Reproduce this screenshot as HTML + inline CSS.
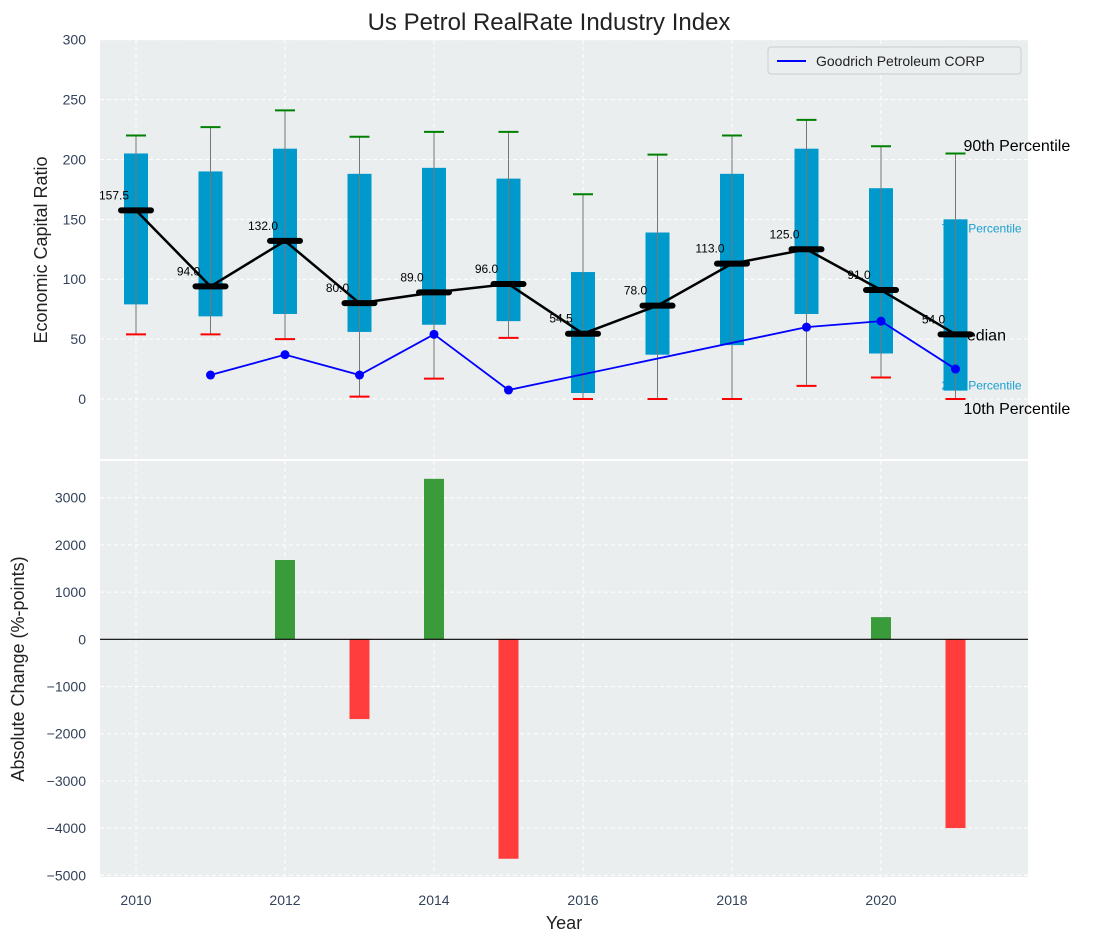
<!DOCTYPE html>
<html><head><meta charset="utf-8"><style>
body{margin:0;background:#fff;}
svg{display:block;font-family:"Liberation Sans","DejaVu Sans",sans-serif;}
</style></head><body>
<svg id="c" width="1098" height="942" xmlns="http://www.w3.org/2000/svg">
<text x="549" y="30" font-size="24" text-anchor="middle" fill="#222">Us Petrol RealRate Industry Index</text>
<rect x="100" y="40" width="928" height="419" fill="#eaeeef"/>
<rect x="100" y="461" width="928" height="416" fill="#eaeeef"/>
<g id="grid"></g>
<g id="labels"></g>
<g id="marks"></g>
<text transform="translate(47,250) rotate(-90)" font-size="18" text-anchor="middle" fill="#222">Economic Capital Ratio</text>
<text transform="translate(24,669) rotate(-90)" font-size="18" text-anchor="middle" fill="#222">Absolute Change (%-points)</text>
<text x="564" y="929" font-size="18" text-anchor="middle" fill="#222">Year</text>
<g>
<rect x="768" y="47" width="253" height="27" rx="3" fill="#eaeeef" stroke="#ccc"/>
<line x1="777" y1="61" x2="806" y2="61" stroke="#0000ff" stroke-width="2"/>
<text x="816" y="66" font-size="14" fill="#222">Goodrich Petroleum CORP</text>
</g>
</svg>
<script>
const years=[2010,2011,2012,2013,2014,2015,2016,2017,2018,2019,2020,2021];
const p10=[54,54,50,2,17,51,0,0,0,11,18,0];
const p25=[79,69,71,56,62,65,5,37,45,71,38,7];
const median=[157.5,94,132,80,89,96,54.5,78,113,125,91,54];
const p75=[205,190,209,188,193,184,106,139,188,209,176,150];
const p90=[220,227,241,219,223,223,171,204,220,233,211,205];
const compYears=[2011,2012,2013,2014,2015,2019,2020,2021];
const compVals=[20,37,20,54,7.5,60,65,25];
const chgYears=[2012,2013,2014,2015,2020,2021];
const chgVals=[1680,-1690,3400,-4650,470,-4000];
const topTicks=[0,50,100,150,200,250,300];
const botTicks=[-5000,-4000,-3000,-2000,-1000,0,1000,2000,3000];
const xTicks=[2010,2012,2014,2016,2018,2020];

const NS="http://www.w3.org/2000/svg";
const X=y=>136+(y-2010)*74.5;
const YT=v=>399-v*1.1977;
const YB=v=>639.3-v*0.0472;
function mk(parent,tag,attrs,text){const e=document.createElementNS(NS,tag);for(const k in attrs)e.setAttribute(k,attrs[k]);if(text!==undefined)e.textContent=text;document.getElementById(parent).appendChild(e);return e;}
const tc="#33425a";
xTicks.forEach(t=>{
 let g=mk('grid','line',{x1:X(t),x2:X(t),y1:40,y2:459,stroke:'#fff','stroke-dasharray':'4,3'});
 
 
 g=mk('grid','line',{x1:X(t),x2:X(t),y1:461,y2:877,stroke:'#fff','stroke-dasharray':'4,3'});
 
 
 const l=mk('grid','text',{x:X(t),y:905,'font-size':14,'text-anchor':'middle',fill:tc},String(t));
 
 
});
topTicks.forEach(t=>{
 const g=mk('grid','line',{x1:100,x2:1028,y1:YT(t),y2:YT(t),stroke:'#fff','stroke-dasharray':'4,3'});
 
 
 const l=mk('grid','text',{x:86,y:YT(t)+5,'font-size':14,'text-anchor':'end',fill:tc},String(t));
 
 
});
botTicks.forEach(t=>{
 const g=mk('grid','line',{x1:100,x2:1028,y1:YB(t),y2:YB(t),stroke:'#fff','stroke-dasharray':'4,3'});
 
 
 const l=mk('grid','text',{x:86,y:YB(t)+5,'font-size':14,'text-anchor':'end',fill:tc},String(t).replace('-','\u2212'));
 
 
});
const L=years.length-1, xl=X(years[L]);
[[ '90th Percentile',xl+8,151,16,'#000'],['75th Percentile',xl-14,YT(p75[L])+13,12,'#1a9fd0'],['Median',xl-2,YT(median[L])+6,16,'#000'],['25th Percentile',xl-14,YT(p25[L])-1,12,'#1a9fd0'],['10th Percentile',xl+8,YT(p10[L])+15,16,'#000']].forEach(a=>{
 const t=mk('labels','text',{x:a[1],y:a[2],'font-size':a[3],fill:a[4]},a[0]);
 
 
});
years.forEach((y,i)=>{
 const x=X(y);
 const b=mk('marks','rect',{x:x-12,y:YT(p75[i]),width:24,height:YT(p25[i])-YT(p75[i]),fill:'#0099cc'});
 
 
 const w=mk('marks','line',{x1:x,x2:x,y1:YT(p90[i]),y2:YT(p10[i]),stroke:'#777','stroke-width':1});
 
 
 const c1=mk('marks','line',{x1:x-10,x2:x+10,y1:YT(p90[i]),y2:YT(p90[i]),stroke:'#008000','stroke-width':2});
 
 
 const c2=mk('marks','line',{x1:x-10,x2:x+10,y1:YT(p10[i]),y2:YT(p10[i]),stroke:'#ff0000','stroke-width':2});
 
 
});
const mp=mk('marks','polyline',{points:years.map((y,i)=>X(y)+','+YT(median[i])).join(' '),fill:'none',stroke:'#000','stroke-width':2.5});


years.forEach((y,i)=>{
 const x=X(y);
 const m=mk('marks','line',{x1:x-15,x2:x+15,y1:YT(median[i]),y2:YT(median[i]),stroke:'#000','stroke-width':6,'stroke-linecap':'round'});
 
 
 const t=mk('marks','text',{x:x-22,y:YT(median[i])-11,'font-size':12,'text-anchor':'middle',fill:'#000'},median[i].toFixed(1));
 
 
});
const bl=mk('marks','polyline',{points:compYears.map((y,i)=>X(y)+','+YT(compVals[i])).join(' '),fill:'none',stroke:'#0000ff','stroke-width':1.8});


compYears.forEach((y,i)=>{
 const d=mk('marks','circle',{cx:X(y),cy:YT(compVals[i]),r:4.5,fill:'#0000ff'});
 
 
});
chgYears.forEach((y,i)=>{
 const v=chgVals[i];
 const r=mk('marks','rect',{x:X(y)-10,y:Math.min(YB(v),YB(0)),width:20,height:Math.abs(YB(v)-YB(0)),fill:v>=0?'#3a9b3a':'#ff3d3d'});
 
 
});
const z=mk('marks','line',{x1:100,x2:1028,y1:YB(0),y2:YB(0),stroke:'#000','stroke-width':1.2});


</script>
</body></html>
